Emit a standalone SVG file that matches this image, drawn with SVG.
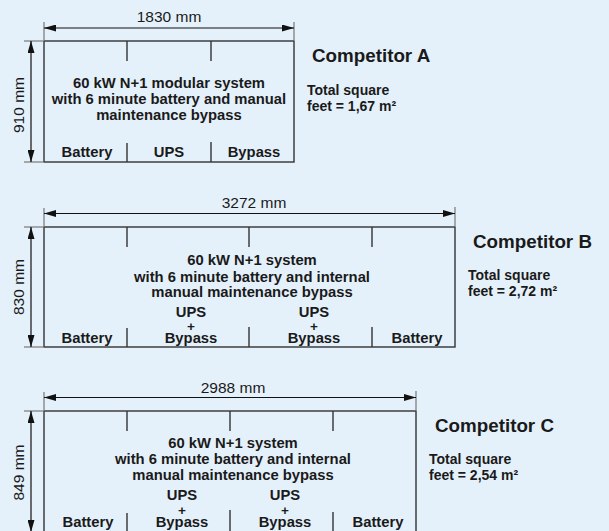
<svg xmlns="http://www.w3.org/2000/svg" width="609" height="531" viewBox="0 0 609 531">
<defs>
<marker id="arr" markerUnits="userSpaceOnUse" markerWidth="12" markerHeight="7" refX="12" refY="3.5" orient="auto-start-reverse"><path d="M0,0 L12,3.5 L0,7 z" fill="#111"/></marker>
</defs>
<style>
.box{fill:none;stroke:#333;stroke-width:1.4}
.div{stroke:#333;stroke-width:1.4}
.ext{stroke:#888;stroke-width:1.4}
.dim{stroke:#111;stroke-width:1.2;marker-start:url(#arr);marker-end:url(#arr)}
.b{font-family:"Liberation Sans",Arial,sans-serif;font-weight:bold;font-size:14.8px;fill:#1a1a1a;text-anchor:middle}
.p{font-family:"Liberation Sans",Arial,sans-serif;font-weight:bold;font-size:13.5px;fill:#1a1a1a;text-anchor:middle}
.n{font-family:"Liberation Sans",Arial,sans-serif;font-size:15.5px;fill:#1a1a1a;text-anchor:middle}
.t{font-family:"Liberation Sans",Arial,sans-serif;font-weight:bold;font-size:18.8px;fill:#1a1a1a}
.s{font-family:"Liberation Sans",Arial,sans-serif;font-weight:bold;font-size:14px;fill:#1a1a1a}
</style>
<rect width="609" height="531" fill="#e5f1fa"/>

<g id="competitorA">
<rect class="box" x="44" y="41" width="250" height="121"/>
<line class="div" x1="127" y1="41" x2="127" y2="61"/>
<line class="div" x1="211" y1="41" x2="211" y2="61"/>
<line class="div" x1="127" y1="143" x2="127" y2="162"/>
<line class="div" x1="211" y1="142" x2="211" y2="162"/>
<text class="b" x="169" y="88">60 kW N+1 modular system</text>
<text class="b" x="169" y="104">with 6 minute battery and manual</text>
<text class="b" x="169" y="119.5">maintenance bypass</text>
<text class="b" x="87" y="157">Battery</text>
<text class="b" x="169" y="157">UPS</text>
<text class="b" x="254" y="157">Bypass</text>
<text class="t" x="312" y="62">Competitor A</text>
<text class="s" x="307" y="95">Total square</text>
<text class="s" x="307" y="111">feet = 1,67 m²</text>
</g>

<g id="competitorB">
<rect class="box" x="44" y="227" width="411" height="120"/>
<line class="div" x1="127" y1="227" x2="127" y2="247"/>
<line class="div" x1="249" y1="227" x2="249" y2="247"/>
<line class="div" x1="372" y1="227" x2="372" y2="247"/>
<line class="div" x1="127" y1="328" x2="127" y2="347"/>
<line class="div" x1="249" y1="327" x2="249" y2="347"/>
<line class="div" x1="372" y1="327" x2="372" y2="347"/>
<text class="b" x="252" y="265">60 kW N+1 system</text>
<text class="b" x="252" y="281.5">with 6 minute battery and internal</text>
<text class="b" x="252" y="297">manual maintenance bypass</text>
<text class="b" x="191" y="316.5">UPS</text>
<text class="p" x="191" y="330.5">+</text>
<text class="b" x="191" y="342.5">Bypass</text>
<text class="b" x="314" y="316.5">UPS</text>
<text class="p" x="314" y="330.5">+</text>
<text class="b" x="314" y="342.5">Bypass</text>
<text class="b" x="87" y="343">Battery</text>
<text class="b" x="417" y="343">Battery</text>
<text class="t" x="473" y="248">Competitor B</text>
<text class="s" x="468" y="280">Total square</text>
<text class="s" x="468" y="296">feet = 2,72 m²</text>
</g>

<g id="competitorC">
<rect class="box" x="44" y="411" width="372" height="126"/>
<line class="div" x1="127" y1="411" x2="127" y2="431"/>
<line class="div" x1="230" y1="411" x2="230" y2="431"/>
<line class="div" x1="333" y1="411" x2="333" y2="431"/>
<line class="div" x1="127" y1="513" x2="127" y2="531"/>
<line class="div" x1="230" y1="510" x2="230" y2="531"/>
<line class="div" x1="333" y1="512" x2="333" y2="531"/>
<text class="b" x="233" y="448">60 kW N+1 system</text>
<text class="b" x="233" y="464">with 6 minute battery and internal</text>
<text class="b" x="233" y="480">manual maintenance bypass</text>
<text class="b" x="182" y="500">UPS</text>
<text class="p" x="182" y="514.5">+</text>
<text class="b" x="182" y="527">Bypass</text>
<text class="b" x="285" y="500">UPS</text>
<text class="p" x="285" y="514.5">+</text>
<text class="b" x="285" y="527">Bypass</text>
<text class="b" x="88" y="527">Battery</text>
<text class="b" x="378" y="527">Battery</text>
<text class="t" x="435" y="432">Competitor C</text>
<text class="s" x="429" y="464">Total square</text>
<text class="s" x="429" y="480">feet = 2,54 m²</text>
</g>

<g id="connectors">
<line class="ext" x1="44" y1="22" x2="44" y2="40"/>
<line class="ext" x1="294" y1="22" x2="294" y2="40"/>
<line class="ext" x1="24" y1="41" x2="43" y2="41"/>
<line class="ext" x1="24" y1="162" x2="43" y2="162"/>
<line class="dim" x1="44" y1="28" x2="294" y2="28"/>
<line class="dim" x1="31" y1="41" x2="31" y2="162"/>
<text class="n" x="169" y="22">1830 mm</text>
<text class="n" transform="translate(24,105) rotate(-90)">910 mm</text>

<line class="ext" x1="44" y1="208" x2="44" y2="226"/>
<line class="ext" x1="455" y1="207" x2="455" y2="226"/>
<line class="ext" x1="24" y1="227" x2="43" y2="227"/>
<line class="ext" x1="24" y1="347" x2="43" y2="347"/>
<line class="dim" x1="44" y1="213.5" x2="455" y2="213.5"/>
<line class="dim" x1="31" y1="227" x2="31" y2="347"/>
<text class="n" x="254" y="208">3272 mm</text>
<text class="n" transform="translate(24,287) rotate(-90)">830 mm</text>

<line class="ext" x1="44" y1="392" x2="44" y2="410"/>
<line class="ext" x1="416" y1="391" x2="416" y2="410"/>
<line class="ext" x1="24" y1="411" x2="43" y2="411"/>
<line class="dim" x1="44" y1="397.5" x2="416" y2="397.5"/>
<line class="dim" x1="31" y1="411" x2="31" y2="532"/>
<text class="n" x="233" y="392.5">2988 mm</text>
<text class="n" transform="translate(24,472.5) rotate(-90)">849 mm</text>
</g>
</svg>
